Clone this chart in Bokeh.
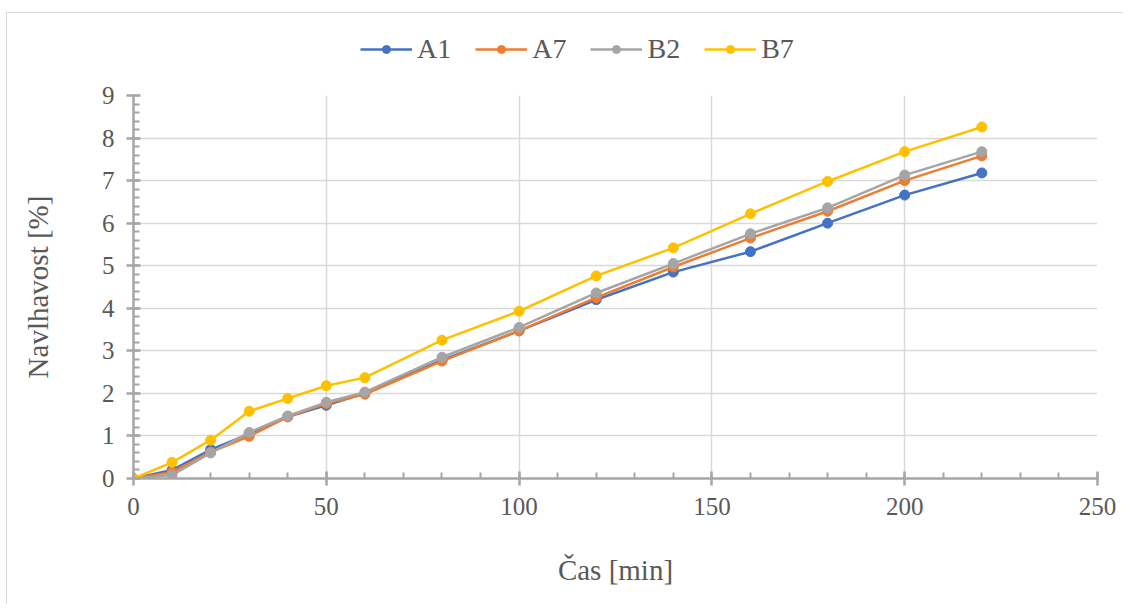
from bokeh.plotting import figure
from bokeh.layouts import column
from bokeh.models import Range1d, FixedTicker, Legend, LegendItem
from bokeh.embed import file_html
from bokeh.resources import INLINE

time_min = [0, 10, 20, 30, 40, 50, 60, 80, 100, 120, 140, 160, 180, 200, 220]
a1 = [0, 0.20, 0.68, 1.05, 1.45, 1.72, 2.00, 2.78, 3.47, 4.20, 4.85, 5.33, 6.00, 6.66, 7.18]
a7 = [0, 0.15, 0.62, 0.99, 1.45, 1.76, 1.98, 2.76, 3.47, 4.25, 4.97, 5.65, 6.28, 7.00, 7.58]
b2 = [0, 0.08, 0.60, 1.08, 1.47, 1.79, 2.03, 2.85, 3.55, 4.36, 5.05, 5.75, 6.36, 7.13, 7.68]
b7 = [0, 0.38, 0.90, 1.58, 1.88, 2.18, 2.37, 3.25, 3.93, 4.76, 5.42, 6.22, 6.98, 7.68, 8.26]
series_names = ["A1", "A7", "B2", "B7"]
series_colors = ["#4472C4", "#ED7D31", "#A5A5A5", "#FFC000"]
x_ticks = [0, 50, 100, 150, 200, 250]
y_ticks = [0, 1, 2, 3, 4, 5, 6, 7, 8, 9]
all_series = [a1, a7, b2, b7]

FONT = "Liberation Serif"
TXT = "#595959"
LW = 2.5
MS = 10

# ---- legend strip (series drawn out of view; only the legend is visible) ----
lf = figure(width=1115, height=67, output_backend="svg", toolbar_location=None,
            x_range=Range1d(1000, 1001), y_range=Range1d(1000, 1001), min_border=0)
lf.axis.visible = False
lf.grid.visible = False
lf.outline_line_color = None
items = []
for name, ys, col in zip(series_names, all_series, series_colors):
    r1 = lf.line(time_min, ys, line_color=col, line_width=LW)
    r2 = lf.scatter(time_min, ys, marker="circle", size=MS, fill_color=col, line_color=col)
    items.append(LegendItem(label=name, renderers=[r1, r2]))
legend = Legend(items=items, orientation="horizontal", location=(227, 15),
                label_text_font=FONT, label_text_font_size="28px", label_text_color=TXT,
                glyph_width=52, glyph_height=20, spacing=24, padding=0, margin=0,
                label_standoff=5, border_line_color=None, background_fill_alpha=0)
lf.add_layout(legend, "center")

# ---- main chart ----
p = figure(width=1115, height=524, output_backend="svg", toolbar_location=None,
           x_range=Range1d(0, 250), y_range=Range1d(0, 9),
           min_border_left=126, min_border_right=25, min_border_top=15, min_border_bottom=126)
p.outline_line_color = None

for name, ys, col in zip(series_names, all_series, series_colors):
    p.line(time_min, ys, line_color=col, line_width=LW)
    p.scatter(time_min, ys, marker="circle", size=MS, fill_color=col, line_color=col)

p.xaxis.ticker = FixedTicker(ticks=x_ticks, minor_ticks=list(range(0, 251, 10)))
p.yaxis.ticker = FixedTicker(ticks=y_ticks, minor_ticks=[i * 0.2 for i in range(46)])
for ax in (p.xaxis, p.yaxis):
    ax.axis_line_color = "#A6A6A6"
    ax.axis_line_width = 2.5
    ax.major_tick_line_color = "#A6A6A6"
    ax.major_tick_line_width = 2.5
    ax.minor_tick_line_color = "#A6A6A6"
    ax.minor_tick_line_width = 2
    ax.major_tick_in = 7
    ax.major_tick_out = 7
    ax.minor_tick_in = 6
    ax.minor_tick_out = 0
    ax.major_label_text_font = FONT
    ax.major_label_text_font_size = "25px"
    ax.major_label_text_color = TXT
    ax.axis_label_text_font = FONT
    ax.axis_label_text_font_size = "29px"
    ax.axis_label_text_color = TXT
    ax.axis_label_text_font_style = "normal"

p.xaxis.axis_label = "Čas [min]"
p.yaxis.axis_label = "Navlhavost [%]"
p.xaxis.major_label_standoff = 12
p.yaxis.major_label_standoff = 12
p.xaxis.axis_label_standoff = 36
p.yaxis.axis_label_standoff = 45

p.xgrid.ticker = FixedTicker(ticks=x_ticks)
p.ygrid.ticker = FixedTicker(ticks=y_ticks)
p.grid.grid_line_color = "#D9D9D9"
p.grid.grid_line_width = 1.5

layout = column(lf, p, spacing=0, margin=(12, 0, 0, 6))
layout.styles = {"border-top": "1px solid #D9D9D9", "border-left": "1px solid #D9D9D9"}
open("out.html", "w").write(file_html(layout, INLINE))
